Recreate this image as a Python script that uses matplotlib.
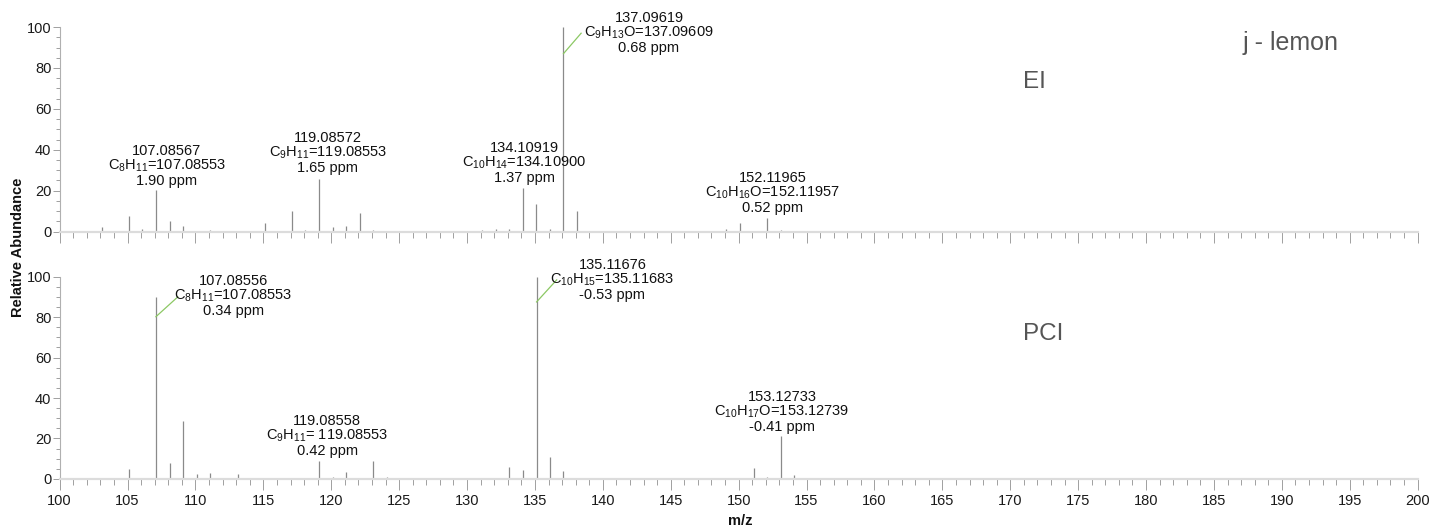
import numpy as np
import matplotlib.pyplot as plt
from matplotlib.ticker import MultipleLocator

plt.rcParams['font.family'] = ['Liberation Sans', 'DejaVu Sans']
plt.rcParams['mathtext.fontset'] = 'custom'
plt.rcParams['mathtext.rm'] = 'Liberation Sans'
plt.rcParams['mathtext.it'] = 'Liberation Sans'

# EI spectrum (m/z, relative abundance)
ei_mz = [103.1, 105.1, 106.1, 107.09, 108.1, 109.1, 111.1, 115.1, 117.1, 118.1,
         119.09, 120.1, 121.1, 122.1, 123.1, 131.1, 132.1, 133.1, 134.11, 135.1,
         136.1, 137.10, 138.1, 149.1, 150.1, 152.12, 153.1]
ei_int = [2.3, 7.6, 1.2, 20.3, 5.3, 2.8, 0.7, 4.3, 10, 0.7,
          25.7, 2, 2.5, 9, 0.6, 0.5, 1, 1, 21.2, 13.5,
          1, 100, 10, 1, 4, 6.5, 0.6]

# PCI spectrum
pci_mz = [105.07, 107.09, 108.1, 109.1, 110.1, 111.1, 113.1, 119.09, 120.1, 121.1,
          123.1, 124.1, 133.1, 134.1, 135.12, 136.1, 137.1, 151.1, 152.1, 153.13,
          154.1, 163.1, 181.1, 193.1]
pci_int = [5.1, 90, 7.7, 28.8, 2.3, 3.1, 2.3, 9, 0.8, 3.6,
           9, 0.8, 6, 4.6, 100, 10.7, 4.1, 5.4, 1, 21.4,
           2, 0.5, 0.3, 0.5]

# peak labels: (x, y of middle line, text lines)
ei_labels = [
    (107.9, 32.0, ['107.08567', r'C$_{8}$H$_{11}$=107.08553', '1.90 ppm']),
    (119.75, 38.4, ['119.08572', r'C$_{9}$H$_{11}$=119.08553', '1.65 ppm']),
    (134.2, 33.5, ['134.10919', r'C$_{10}$H$_{14}$=134.10900', '1.37 ppm']),
    (143.4, 97.0, ['137.09619', r'C$_{9}$H$_{13}$O=137.09609', '0.68 ppm']),
    (152.5, 18.8, ['152.11965', r'C$_{10}$H$_{16}$O=152.11957', '0.52 ppm']),
]
pci_labels = [
    (112.8, 90.5, ['107.08556', r'C$_{8}$H$_{11}$=107.08553', '0.34 ppm']),
    (119.7, 21.3, ['119.08558', r'C$_{9}$H$_{11}$= 119.08553', '0.42 ppm']),
    (140.7, 98.4, ['135.11676', r'C$_{10}$H$_{15}$=135.11683', '-0.53 ppm']),
    (153.2, 33.1, ['153.12733', r'C$_{10}$H$_{17}$O=153.12739', '-0.41 ppm']),
]
# green leader lines: (x0, y0, x1, y1)
ei_leaders = [(137.10, 87.0, 138.4, 97.0)]
pci_leaders = [(107.09, 80.2, 108.7, 90.0), (135.12, 87.5, 136.6, 98.4)]

fig = plt.figure(figsize=(14.34, 5.31), dpi=100)
ax1 = fig.add_axes([0.0416, 0.564, 0.947, 0.385])
ax2 = fig.add_axes([0.0416, 0.098, 0.947, 0.381])

def style(ax, labels_on):
    ax.set_xlim(100, 200)
    ax.set_ylim(0, 100)
    for s in ['top', 'right']:
        ax.spines[s].set_visible(False)
    ax.spines['left'].set_color('#b0b0b0')
    ax.spines['left'].set_linewidth(0.8)
    ax.spines['bottom'].set_color('#dcdcdc')
    ax.spines['bottom'].set_linewidth(1.6)
    ax.xaxis.set_major_locator(MultipleLocator(5))
    ax.xaxis.set_minor_locator(MultipleLocator(1))
    ax.yaxis.set_major_locator(MultipleLocator(20))
    ax.yaxis.set_minor_locator(MultipleLocator(5))
    ax.tick_params(axis='x', which='major', length=8, width=0.7, color='#a0a0a0',
                   direction='out', labelsize=10.5, pad=3, labelbottom=labels_on,
                   labelcolor='#1a1a1a')
    ax.tick_params(axis='x', which='minor', length=4.5, width=0.7, color='#a0a0a0',
                   direction='out')
    ax.tick_params(axis='y', which='major', length=5, width=0.7, color='#a0a0a0',
                   labelsize=10.5, pad=1, labelcolor='#1a1a1a')
    ax.tick_params(axis='y', which='minor', length=3, width=0.7, color='#a0a0a0')

def draw(ax, mz, inten, labels, leaders):
    ax.vlines(mz, 0, inten, color='#8a8a8a', linewidth=0.9, clip_on=False)
    for x, y, lines in labels:
        ax.text(x, y, '\n'.join(lines), ha='center', va='center', multialignment='center',
                fontsize=10.5, color='#111111', linespacing=1.0, clip_on=False)
    for x0, y0, x1, y1 in leaders:
        ax.plot([x0, x1], [y0, y1], color='#8cc864', linewidth=0.9, clip_on=False)

style(ax1, False)
style(ax2, True)
draw(ax1, ei_mz, ei_int, ei_labels, ei_leaders)
draw(ax2, pci_mz, pci_int, pci_labels, pci_leaders)

ax1.text(170.94, 70.2, 'EI', fontsize=17.5, color='#555555', ha='left', va='baseline')
ax1.text(187.1, 88.7, 'j - lemon', fontsize=18, color='#555555', ha='left', va='baseline')
ax2.text(170.94, 68.7, 'PCI', fontsize=17.5, color='#555555', ha='left', va='baseline')

fig.text(0.0125, 0.534, 'Relative Abundance', rotation=90, fontsize=10.5,
         fontweight='bold', ha='center', va='center', color='#111111')
fig.text(0.516, 0.019, 'm/z', fontsize=10.5, fontweight='bold', ha='center',
         va='center', color='#111111')

fig.savefig('out.png', dpi=100)
